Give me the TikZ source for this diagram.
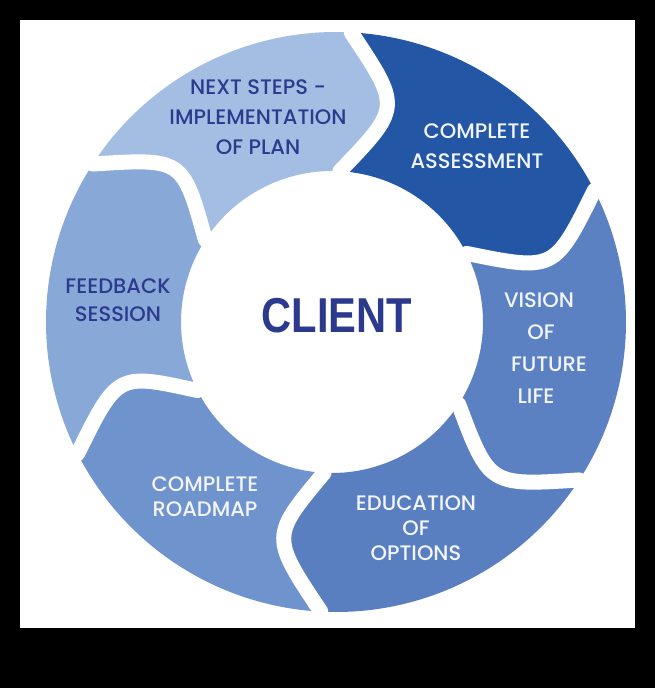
\documentclass[tikz,border=0pt]{standalone}
\usepackage{fontspec}
\setmainfont{Poppins}[UprightFont={* Medium}]
\newfontfamily\clientfont{Liberation Sans}
\usetikzlibrary{calc}
\definecolor{cNS}{HTML}{A3BEE2}
\definecolor{cCA}{HTML}{2356A5}
\definecolor{cVI}{HTML}{5C81C3}
\definecolor{cED}{HTML}{5A7FC0}
\definecolor{cRM}{HTML}{6F93CC}
\definecolor{cFB}{HTML}{88A8D8}
\definecolor{navy}{HTML}{2C3A8E}
\definecolor{lighttext}{HTML}{F2F5FB}
\def\Ro{290}
\def\Ri{151}
\def\Rm{221}
\def\dl{7}
\newcommand\ringseg[3]{%
  \pgfmathsetmacro\ta{#1}\pgfmathsetmacro\tb{#2}%
  \pgfmathsetmacro\tam{\ta-\dl}\pgfmathsetmacro\tbm{\tb-\dl}%
  \fill[#3] (\ta:\Ro) arc[start angle=\ta,end angle=\tb,radius=\Ro]
    .. controls ($(\tb:\Rm)!2!(\tbm:\Rm)$) .. ($(-4,0)+(\tb:\Ri)$)
    arc[start angle=\tb,end angle=\ta,radius=\Ri]
    .. controls ($(\ta:\Rm)!2!(\tam:\Rm)$) .. (\ta:\Ro) -- cycle;}
\newcommand\ringgap[1]{%
  \pgfmathsetmacro\tg{#1}\pgfmathsetmacro\tgm{\tg-\dl}%
  \draw[gapline] (\tg:\Ro) .. controls ($(\tg:\Rm)!2!(\tgm:\Rm)$) .. ($(-4,0)+(\tg:\Ri)$);}
\begin{document}
\begin{tikzpicture}[x=1pt,y=1pt,
  gapline/.style={white,line width=15pt,line cap=round},
  lbl/.style={align=center,inner sep=0pt,font=\fontsize{21}{30}\selectfont},
  darklbl/.style={lbl,text=navy},
  whitelbl/.style={lbl,text=lighttext}]
\fill[black] (-336,322) rectangle (319,-366);
\fill[white] (-316,302) rectangle (299,-306);
\ringseg{87}{27}{cCA}
\ringseg{27}{-33}{cVI}
\ringseg{-33}{-93}{cED}
\ringseg{-93}{-153}{cRM}
\ringseg{-153}{-213}{cFB}
\ringseg{147}{87}{cNS}
\ringgap{87}
\ringgap{27}
\ringgap{-33}
\ringgap{-93}
\ringgap{-153}
\ringgap{147}
\node[darklbl] (ns) at (-78,205) {NEXT STEPS -\\IMPLEMENTATION\\OF PLAN};
\node[whitelbl] (ca) at (141,176) {COMPLETE\\ASSESSMENT};
\node[whitelbl,font=\fontsize{21}{32}\selectfont] (vi) at (205,-26) {VISION\hspace*{4pt}\\OF\\\hspace*{16pt}FUTURE\\LIFE\hspace*{10pt}};
\node[whitelbl,font=\fontsize{21}{25}\selectfont] (ed) at (80,-206) {EDUCATION\\OF\\OPTIONS};
\node[whitelbl,font=\fontsize{21}{25}\selectfont] (rm) at (-131,-175) {COMPLETE\\ROADMAP};
\node[darklbl,font=\fontsize{21}{28}\selectfont] (fb) at (-218,22) {FEEDBACK\\SESSION};
\node[inner sep=0pt,text=navy,xscale=0.85,font=\clientfont\bfseries\fontsize{49}{49}\selectfont] (client) at (1,6) {CLIENT};
\end{tikzpicture}
\end{document}
